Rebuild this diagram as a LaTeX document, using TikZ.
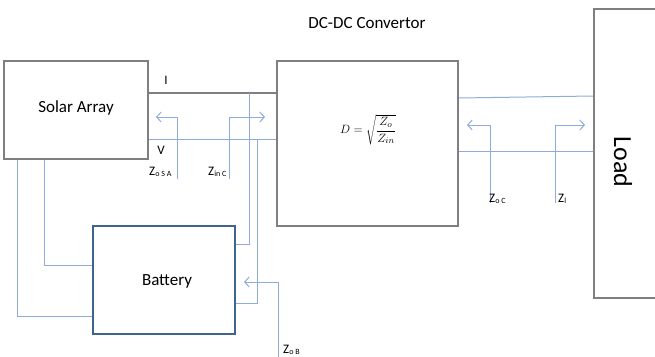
\documentclass[tikz,border=0pt]{standalone}
\usepackage{fontspec}
\setmainfont{Carlito}
\usetikzlibrary{arrows.meta}
\definecolor{boxgray}{HTML}{7F7F7F}
\definecolor{wireblue}{HTML}{8FAADC}
\definecolor{batblue}{HTML}{41648F}
\tikzset{
  graybox/.style={draw=boxgray, line width=2pt, rectangle, inner sep=0pt},
  batbox/.style={draw=batblue, line width=2.4pt, rectangle, inner sep=0pt},
  wire/.style={draw=wireblue, line width=1pt},
  graywire/.style={draw=boxgray, line width=1.4pt},
  zarrow/.style={draw=wireblue, line width=1pt, -{Straight Barb[length=4.5pt,width=10pt]}},
  boxlabel/.style={font=\fontsize{17}{20}\selectfont},
  smalllabel/.style={font=\fontsize{13}{15}\selectfont, inner sep=0pt},
  zlabel/.style={font=\fontsize{13}{15}\selectfont, inner sep=0pt, anchor=base west}
}
\newcommand{\zsub}[1]{Z{\fontsize{8}{9}\selectfont\raisebox{-1.5pt}{#1}}}
\begin{document}
\begin{tikzpicture}[x=1pt,y=-1pt]
\useasboundingbox (0,0) rectangle (655,356);
% boxes
\node[graybox, minimum width=144pt, minimum height=98pt] (solar) at (76,110) {};
\node[boxlabel] (solart) at (76,108) {Solar Array};
\node[graybox, minimum width=181pt, minimum height=165pt] (dc) at (367.5,143.5) {};
\node[font=\fontsize{13}{15}\selectfont] (form) at (368,130) {$D=\sqrt{\displaystyle\frac{Z_o}{Z_{in}}}$};
\node[boxlabel] (dct) at (367,23) {DC-DC Convertor};
\node[batbox, minimum width=142pt, minimum height=108pt] (bat) at (164,280) {};
\node[boxlabel] (batt) at (167,281) {Battery};
\node[graybox, minimum width=80pt, minimum height=289pt] (load) at (634,153.5) {};
\node[font=\fontsize{26}{30}\selectfont, rotate=-90] (loadt) at (623,162) {Load};
% wires between solar and dc
\draw[graywire] (solar.east |- 0,93) -- (dc.west |- 0,93);
\draw[wire] (solar.east |- 0,139) -- (dc.west |- 0,139);
\node[smalllabel] (il) at (166,80) {I};
\node[smalllabel] (vl) at (161,150) {V};
% vertical wires to battery
\draw[wire] (249,93) |- (bat.east |- 0,244);
\draw[wire] (257,139) |- (bat.east |- 0,303);
\draw[wire] (solar.south -| 17,0) |- (bat.west |- 0,316);
\draw[wire] (solar.south -| 44,0) |- (bat.west |- 0,265);
% wires between dc and load
\draw[wire] (dc.east |- 0,98) -- (load.west |- 0,96);
\draw[wire] (dc.east |- 0,151) -- (load.west |- 0,151);
% impedance arrows
\draw[zarrow] (177,179) |- (156,117);
\draw[zarrow] (229,179) |- (265,117);
\draw[zarrow] (490,203) |- (467,125);
\draw[zarrow] (555,203) |- (585,125);
\draw[zarrow] (278,360) |- (244,282);
% labels
\node[zlabel] (zosa) at (149,175) {\zsub{o S A}};
\node[zlabel] (zinc) at (208,175) {\zsub{in C}};
\node[zlabel] (zoc) at (489,202) {\zsub{o C}};
\node[zlabel] (zl) at (558,202) {\zsub{l}};
\node[zlabel] (zob) at (283,353) {\zsub{o B}};
\end{tikzpicture}
\end{document}
